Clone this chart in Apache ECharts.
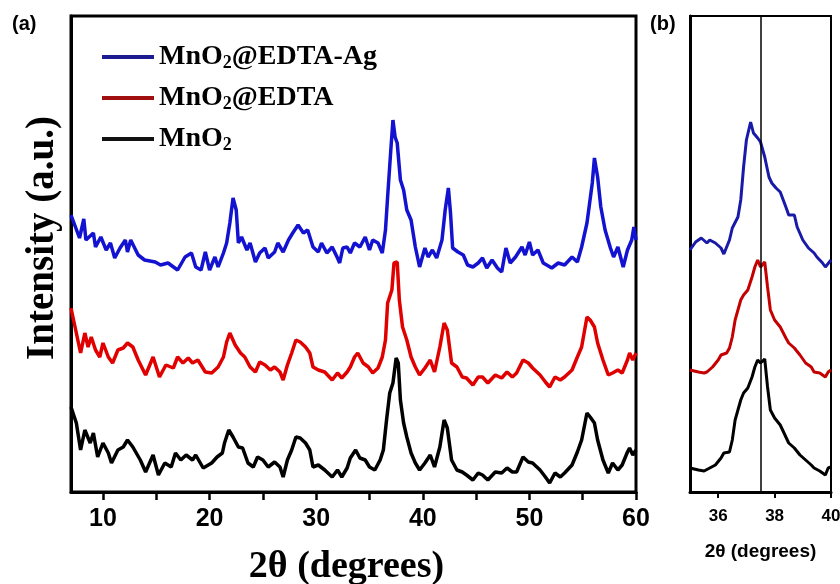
<!DOCTYPE html>
<html>
<head>
<meta charset="utf-8">
<script src="https://cdn.jsdelivr.net/npm/echarts@6/dist/echarts.min.js"></script>
<style>
html, body { margin: 0; padding: 0; background: #fff; }
#chart { width: 840px; height: 584px; }
</style>
</head>
<body>
<div id="chart"></div>
<script>
// panel (a): 2theta 7-60, intensities already stacked (a.u.)
var blueA = [[7.0,277],[7.8,254],[8.2,273],[8.4,252],[9.1,259],[9.3,245],[9.8,255],[10.3,242],[10.7,249],[11.1,234],[11.6,244],[12.1,252],[12.3,240],[12.6,252],[13.3,237],[13.9,232],[14.9,230],[15.4,227],[16.1,229],[17.0,222],[17.7,235],[18.3,239],[18.7,225],[19.2,222],[19.6,240],[20.0,222],[20.5,235],[20.8,225],[21.3,239],[21.6,249],[21.9,269],[22.2,294],[22.5,282],[22.7,249],[23.0,255],[23.5,242],[23.8,249],[24.3,230],[24.7,239],[25.2,244],[25.5,234],[26.1,240],[26.4,249],[26.9,240],[27.4,252],[27.8,259],[28.3,267],[28.8,259],[29.2,262],[29.7,245],[30.2,240],[30.5,249],[31.0,239],[31.5,245],[32.0,234],[32.2,229],[32.5,244],[32.9,245],[33.2,239],[33.6,249],[34.1,245],[34.6,255],[35.0,242],[35.3,252],[35.8,249],[36.2,239],[36.5,262],[36.7,295],[37.0,342],[37.2,372],[37.4,355],[37.6,349],[37.9,312],[38.2,302],[38.5,282],[38.9,272],[39.3,245],[39.7,225],[40.2,244],[40.5,235],[40.9,242],[41.3,234],[41.8,252],[42.1,282],[42.4,304],[42.6,279],[42.8,244],[43.3,240],[43.8,237],[44.2,227],[44.7,225],[45.2,229],[45.6,234],[46.0,224],[46.5,232],[47.0,224],[47.4,220],[47.8,244],[48.2,229],[48.7,235],[49.3,245],[49.6,237],[50.0,250],[50.3,237],[50.8,242],[51.3,229],[52.1,224],[52.7,229],[53.3,227],[54.0,235],[54.5,230],[54.9,245],[55.4,269],[55.9,309],[56.1,334],[56.4,315],[56.7,285],[57.1,262],[57.6,244],[57.9,235],[58.3,245],[58.8,225],[59.2,242],[59.6,252],[59.8,265],[60.0,252]];

var redA = [[7.0,184],[7.3,169],[7.9,139],[8.3,159],[8.6,145],[8.9,155],[9.3,142],[9.7,135],[10.0,149],[10.5,135],[10.9,129],[11.4,142],[11.9,144],[12.3,149],[12.8,145],[13.3,132],[14.0,117],[14.7,135],[15.3,115],[15.9,127],[16.6,124],[17.0,135],[17.5,129],[18.0,134],[18.4,129],[18.9,132],[19.6,120],[20.2,119],[20.8,125],[21.3,135],[21.6,150],[21.9,159],[22.4,147],[22.9,139],[23.3,135],[23.8,125],[24.3,120],[24.7,130],[25.2,127],[25.7,122],[26.1,125],[26.6,120],[26.9,112],[27.3,127],[27.7,139],[28.1,152],[28.5,150],[29.0,145],[29.4,139],[29.7,125],[30.2,122],[30.8,120],[31.5,112],[32.0,119],[32.4,114],[32.9,120],[33.2,125],[33.6,135],[33.9,139],[34.4,129],[34.9,125],[35.3,119],[35.8,124],[36.2,135],[36.5,152],[36.7,189],[37.1,202],[37.3,229],[37.6,230],[37.8,192],[38.1,165],[38.5,152],[38.9,135],[39.3,125],[39.7,117],[40.2,124],[40.7,132],[41.1,120],[41.6,145],[42.0,169],[42.3,162],[42.7,129],[43.2,125],[43.7,115],[44.1,114],[44.7,107],[45.2,115],[45.6,115],[46.1,109],[46.8,117],[47.4,114],[47.9,120],[48.4,115],[48.8,119],[49.4,132],[49.9,129],[50.3,124],[51.0,117],[51.5,110],[51.9,105],[52.4,115],[52.9,112],[53.3,115],[54.0,122],[54.5,135],[54.9,145],[55.4,175],[55.7,172],[56.1,165],[56.4,149],[56.9,132],[57.4,117],[57.8,119],[58.3,122],[58.7,119],[59.2,132],[59.4,139],[59.7,132],[60.0,139]];

var blackA = [[7.0,85],[7.5,69],[7.9,42],[8.3,62],[8.8,49],[9.1,59],[9.5,35],[10.0,49],[10.5,39],[10.8,29],[11.4,42],[11.9,45],[12.3,52],[12.8,45],[13.5,32],[14.0,20],[14.7,37],[15.2,17],[15.8,29],[16.4,25],[16.8,39],[17.3,32],[17.8,37],[18.4,32],[18.7,37],[19.4,24],[20.2,29],[20.7,35],[21.2,39],[21.4,49],[21.8,62],[22.2,55],[22.7,45],[23.1,44],[23.6,29],[24.1,25],[24.5,35],[25.0,32],[25.5,25],[26.1,30],[26.6,25],[26.9,15],[27.3,32],[27.7,42],[28.1,55],[28.5,54],[29.0,49],[29.4,42],[29.7,25],[30.2,27],[30.8,22],[31.5,15],[32.0,22],[32.4,15],[32.9,24],[33.2,34],[33.7,42],[34.1,34],[34.6,32],[35.0,25],[35.5,22],[36.0,32],[36.3,42],[36.6,72],[36.9,99],[37.2,109],[37.5,134],[37.7,129],[37.9,92],[38.2,69],[38.5,55],[38.9,39],[39.3,29],[39.7,22],[40.2,29],[40.7,37],[41.1,25],[41.6,45],[42.0,72],[42.3,64],[42.7,32],[43.2,22],[43.7,20],[44.1,17],[44.7,12],[45.2,19],[45.6,17],[46.1,12],[46.8,20],[47.4,19],[47.9,24],[48.4,20],[48.8,20],[49.4,35],[49.9,30],[50.3,29],[51.0,22],[51.5,15],[51.9,9],[52.4,19],[52.9,15],[53.3,19],[54.0,27],[54.5,40],[54.9,52],[55.4,79],[55.7,75],[56.1,69],[56.4,52],[56.9,32],[57.4,19],[57.8,29],[58.3,22],[58.7,27],[59.2,40],[59.4,44],[59.7,37],[60.0,42]];

// panel (b): zoom 35-40
var blueB = [[35.0,242],[35.2,250],[35.4,254],[35.6,249],[35.7,252],[35.9,249],[36.1,244],[36.2,238],[36.4,252],[36.5,264],[36.7,275],[36.8,292],[36.9,325],[37.0,352],[37.15,370],[37.25,359],[37.4,354],[37.5,350],[37.65,335],[37.8,315],[37.9,309],[38.05,304],[38.2,300],[38.4,285],[38.5,277],[38.7,277],[38.8,265],[39.0,252],[39.2,244],[39.4,239],[39.5,235],[39.7,229],[39.8,225],[40.0,232]];
var redB = [[35.0,122],[35.3,120],[35.5,119],[35.6,120],[35.8,125],[36.0,132],[36.1,137],[36.3,139],[36.4,144],[36.5,155],[36.6,172],[36.8,192],[36.9,197],[37.05,202],[37.2,215],[37.3,225],[37.4,232],[37.5,225],[37.65,230],[37.75,205],[37.85,182],[38.0,172],[38.2,165],[38.4,154],[38.5,149],[38.7,144],[38.9,137],[39.1,129],[39.3,125],[39.4,120],[39.6,119],[39.8,115],[39.9,120],[40.0,122]];
var blackB = [[35.0,24],[35.3,22],[35.5,21],[35.7,24],[35.9,27],[36.1,34],[36.2,39],[36.4,40],[36.5,52],[36.6,72],[36.8,92],[36.9,99],[37.05,104],[37.2,115],[37.3,125],[37.4,132],[37.5,129],[37.65,133],[37.75,105],[37.85,82],[38.0,74],[38.2,67],[38.4,55],[38.5,49],[38.7,44],[38.9,37],[39.1,32],[39.3,27],[39.4,24],[39.6,21],[39.8,17],[39.9,24],[40.0,25]];

var names = ['MnO2@EDTA-Ag', 'MnO2@EDTA', 'MnO2'];
var ticksA = [10, 15, 20, 25, 30, 35, 40, 45, 50, 55, 60];
var labelsA = [10, 20, 30, 40, 50, 60];
var ticksB = [36, 38, 40];
var refLine = 37.5;

var chart = echarts.init(document.getElementById('chart'));

var serif = '"Liberation Serif", "Times New Roman", serif';
var sans = '"Liberation Sans", Arial, sans-serif';

function line(name, data, color, idx, w) {
    return {
        name: name,
        type: 'line',
        xAxisIndex: idx,
        yAxisIndex: idx,
        data: data,
        showSymbol: false,
        symbol: 'none',
        lineStyle: { color: color, width: w },
        itemStyle: { color: color }
    };
}

var lineB = line('b-black', blackB, '#000', 1, 3);
lineB.markLine = {
    silent: true,
    symbol: ['none', 'none'],
    label: { show: false },
    lineStyle: { color: '#000', width: 1.5, type: 'solid' },
    data: [{ xAxis: refLine }]
};

var option = {
    animation: false,
    backgroundColor: '#fff',
    grid: [
        { left: 71, top: 16, width: 565, height: 476, show: true, borderColor: '#000', borderWidth: 3, outerBoundsMode: 'none' },
        { left: 690, top: 16, width: 141, height: 476, show: true, borderColor: '#000', borderWidth: 2, outerBoundsMode: 'none' }
    ],
    xAxis: [
        {
            type: 'value', gridIndex: 0, min: 7, max: 60,
            axisLine: { show: true, lineStyle: { color: '#000', width: 3 } },
            axisTick: { show: true, inside: false, length: 8, customValues: ticksA, lineStyle: { color: '#000', width: 2.5 } },
            axisLabel: { customValues: labelsA, color: '#000', fontSize: 25, fontWeight: 'bold', fontFamily: sans, margin: 15 },
            splitLine: { show: false },
            name: '2θ (degrees)', nameLocation: 'middle', nameGap: 56,
            nameTextStyle: { color: '#000', fontSize: 38, fontWeight: 'bold', fontFamily: serif, padding: [0, 14, 0, 0] }
        },
        {
            type: 'value', gridIndex: 1, min: 35, max: 40,
            axisLine: { show: true, lineStyle: { color: '#000', width: 3 } },
            axisTick: { show: true, inside: false, length: 6, customValues: ticksB, lineStyle: { color: '#000', width: 2 } },
            axisLabel: { customValues: ticksB, color: '#000', fontSize: 17, fontWeight: 'bold', fontFamily: sans, margin: 16 },
            splitLine: { show: false },
            name: '2θ (degrees)', nameLocation: 'middle', nameGap: 50,
            nameTextStyle: { color: '#000', fontSize: 19, fontWeight: 'bold', fontFamily: sans }
        }
    ],
    yAxis: [
        {
            type: 'value', gridIndex: 0, min: 0, max: 476,
            axisLine: { show: true, lineStyle: { color: '#000', width: 3 } },
            axisTick: { show: false }, axisLabel: { show: false }, splitLine: { show: false }
        },
        {
            type: 'value', gridIndex: 1, min: 0, max: 476,
            axisLine: { show: true, lineStyle: { color: '#000', width: 3 } },
            axisTick: { show: false }, axisLabel: { show: false }, splitLine: { show: false }
        }
    ],
    legend: {
        orient: 'vertical',
        left: 97,
        top: 38,
        itemGap: 12,
        itemWidth: 52,
        itemHeight: 4,
        icon: 'rect',
        selectedMode: false,
        data: [
            { name: names[0], itemStyle: { color: '#1c1c90' } },
            { name: names[1], itemStyle: { color: '#a01010' } },
            { name: names[2], itemStyle: { color: '#111' } }
        ],
        formatter: function (name) {
            var rest = name.slice(4);
            return '{t|MnO}{s|2}' + (rest ? '{t|' + rest + '}' : '');
        },
        textStyle: {
            rich: {
                t: { fontFamily: serif, fontWeight: 'bold', fontSize: 28, color: '#000', lineHeight: 30 },
                s: { fontFamily: serif, fontWeight: 'bold', fontSize: 18, color: '#000', lineHeight: 8, verticalAlign: 'bottom' }
            }
        }
    },
    graphic: [
        { type: 'text', left: 12, top: 14, style: { text: '(a)', font: 'bold 20px ' + sans, fill: '#000' } },
        { type: 'text', left: 650, top: 14, style: { text: '(b)', font: 'bold 20px ' + sans, fill: '#000' } },
        {
            type: 'text', x: 43, y: 238, rotation: Math.PI / 2,
            style: {
                text: 'Intensity (a.u.)', font: 'bold 39px ' + serif, fill: '#000',
                textAlign: 'center', textVerticalAlign: 'middle', align: 'center', verticalAlign: 'middle'
            }
        }
    ],
    series: [
        line(names[0], blueA, '#1212d0', 0, 3.5),
        line(names[1], redA, '#e00000', 0, 3.5),
        line(names[2], blackA, '#000', 0, 3.5),
        line('b-blue', blueB, '#1a1aa8', 1, 3),
        line('b-red', redB, '#c40000', 1, 3),
        lineB
    ]
};

chart.setOption(option);
</script>
</body>
</html>
